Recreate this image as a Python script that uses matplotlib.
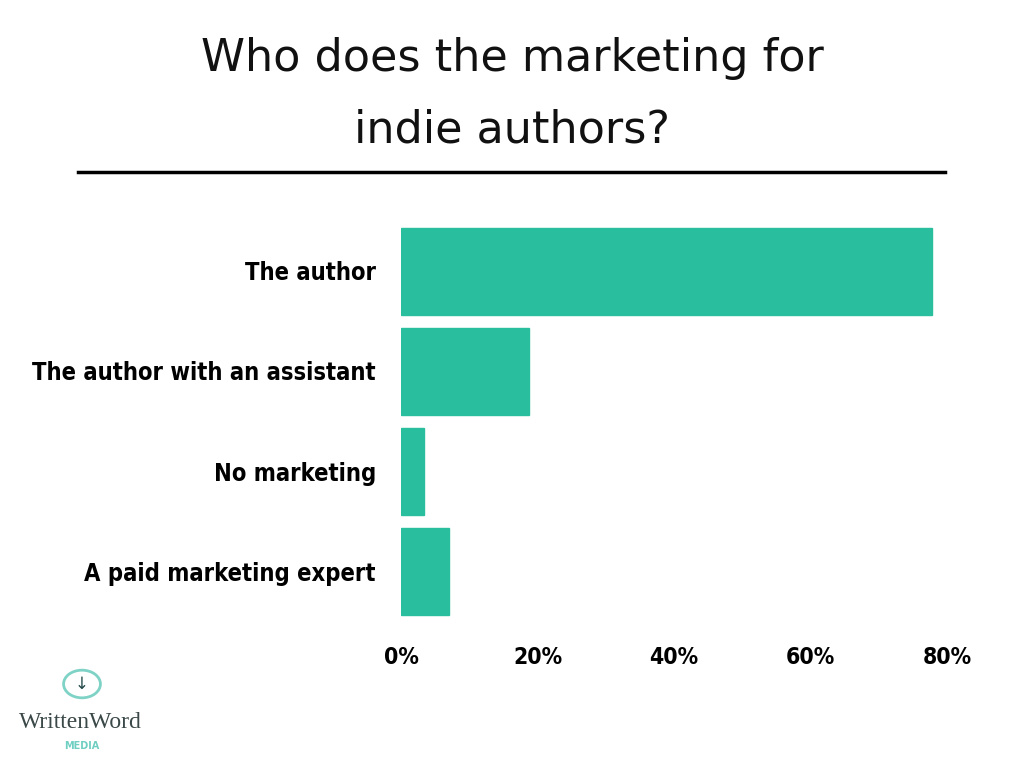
import matplotlib.pyplot as plt
from matplotlib.patches import Circle

categories = ['The author', 'The author with an assistant', 'No marketing', 'A paid marketing expert']
shares = [77.8, 18.8, 3.4, 7.0]
ticks = [0, 20, 40, 60, 80]
tick_labels = ['0%', '20%', '40%', '60%', '80%']

BAR_COLOR = '#29bf9e'
LABEL_FONT = dict(family='DejaVu Sans', fontstretch='condensed', fontweight='bold')

fig = plt.figure(figsize=(10.24, 7.68), dpi=100)
ax = fig.add_axes([401 / 1024, 1 - 621 / 768, 546 / 1024, 400 / 768])

y = list(range(len(categories)))
ax.barh(y, shares, height=0.87, color=BAR_COLOR, edgecolor=BAR_COLOR)
ax.set_ylim(len(categories) - 0.5, -0.5)
ax.set_xlim(0, 80)

ax.set_yticks(y)
ax.set_yticklabels(categories, fontsize=17, **LABEL_FONT)
ax.set_xticks(ticks)
ax.set_xticklabels(tick_labels, fontsize=16.5, **LABEL_FONT)
ax.tick_params(axis='y', length=0, pad=18)
ax.tick_params(axis='x', length=0, pad=18)
for s in ax.spines.values():
    s.set_visible(False)

# title + rule
fig.text(0.5, 1 - 58 / 768, 'Who does the marketing for', ha='center', va='center',
         fontsize=32, family='DejaVu Sans', color='#111111')
fig.text(0.5, 1 - 130 / 768, 'indie authors?', ha='center', va='center',
         fontsize=32, family='DejaVu Sans', color='#111111')
fig.add_artist(plt.Line2D([78 / 1024, 945 / 1024], [1 - 172 / 768] * 2,
                          color='black', linewidth=2.5))

# logo
fig.add_artist(Circle((82 / 1024, 1 - 684 / 768), 0.018, transform=fig.transFigure,
                      facecolor='none', edgecolor='#7fd3c6', linewidth=2))
fig.text(82 / 1024, 1 - 684 / 768, '\u2193', ha='center', va='center', fontsize=12, color='#244a4a')
fig.text(80 / 1024, 1 - 722 / 768, 'WrittenWord', ha='center', va='center',
         fontsize=17, family='Liberation Serif', color='#3b4848')
fig.text(82 / 1024, 1 - 746 / 768, 'MEDIA', ha='center', va='center',
         fontsize=7, family='DejaVu Sans', fontweight='bold', color='#6fcfc2')

fig.savefig('out.png', dpi=100)
